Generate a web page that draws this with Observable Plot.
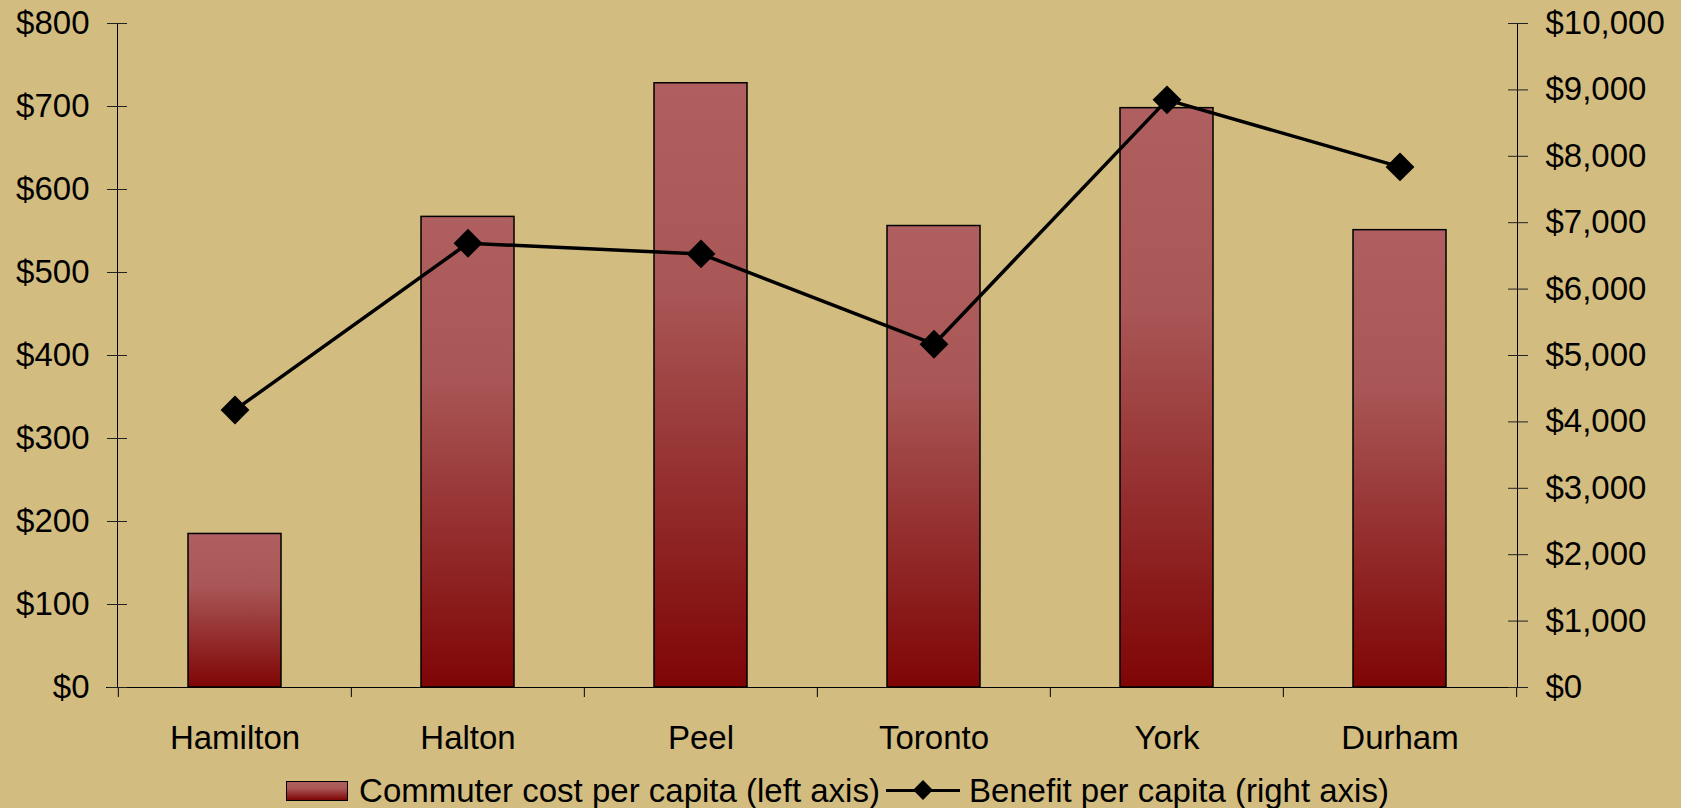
<!DOCTYPE html>
<html>
<head>
<meta charset="utf-8">
<script src="https://cdn.jsdelivr.net/npm/d3@7"></script>
<script src="https://cdn.jsdelivr.net/npm/@observablehq/plot@0.6"></script>
<style>
  html, body { margin: 0; padding: 0; background: #D3BC80; overflow: hidden; }
  #chart svg { display: block; }
  #legend {
    height: 38px; line-height: 38px; font-family: "Liberation Sans", Arial, sans-serif;
    font-size: 33px; color: #000; display: flex; justify-content: center; align-items: center;
    white-space: nowrap; margin-left: -6px;
  }
  .sw { display: inline-block; width: 60px; height: 18px; border: 1.5px solid #000;
    background: linear-gradient(to bottom, #AF5F5F 0%, #A95656 35%, #7F0505 100%); margin-right: 11px; }
  .ln { display: inline-block; position: relative; width: 74px; height: 38px; margin-left: 6px; margin-right: 9px; }
  .ln::before { content: ""; position: absolute; left: 0; right: 0; top: 17px; height: 3px; background: #000; }
  .ln::after { content: ""; position: absolute; left: 30px; top: 11px; width: 14px; height: 14px; background: #000; transform: rotate(45deg); }
</style>
</head>
<body>
<div id="chart"></div>
<div id="legend"><span class="sw"></span><span>Commuter cost per capita (left axis)</span><span class="ln"></span><span>Benefit per capita (right axis)</span></div>
<script>
const regions = ["Hamilton", "Halton", "Peel", "Toronto", "York", "Durham"];
const costPerCapita = [185, 567, 728, 556, 698, 551];
const benefitPerCapita = [4180, 6690, 6530, 5170, 8850, 7840];
const leftTicks = [0, 100, 200, 300, 400, 500, 600, 700, 800];
const rightTicks = [0, 1000, 2000, 3000, 4000, 5000, 6000, 7000, 8000, 9000, 10000];

const ratio = 10000 / 800;
const data = regions.map((r, i) => ({region: r, cost: costPerCapita[i], benefit: benefitPerCapita[i]}));

const W = 1681, H = 772, mL = 117, mR = 164, mT = 23, mB = 85;
const step = (W - mL - mR) / regions.length;
const font = 33;

const chart = Plot.plot({
  width: W, height: H,
  marginLeft: mL, marginRight: mR, marginTop: mT, marginBottom: mB,
  style: {background: "#D3BC80", fontFamily: "'Liberation Sans', Arial, sans-serif", fontSize: font + "px", color: "#000"},
  x: {type: "band", domain: regions, paddingInner: 0.6, paddingOuter: 0.3, axis: null},
  y: {domain: [0, 800], axis: null},
  marks: [
    Plot.barY(data, {x: "region", y: "cost", fill: "url(#barGrad)", stroke: "#000", strokeWidth: 1.5}),
    Plot.frame({anchor: "left", stroke: "#000", strokeWidth: 1}),
    Plot.frame({anchor: "right", stroke: "#000", strokeWidth: 1}),
    Plot.ruleY([0], {insetLeft: -11, stroke: "#000", strokeWidth: 1.2}),
    // category boundary ticks
    Plot.axisX({ticks: regions, tickSize: 10, dx: -step / 2, fill: "none", label: null, stroke: "#000"}),
    Plot.axisX({ticks: [regions[regions.length - 1]], tickSize: 10, dx: step / 2, fill: "none", label: null, stroke: "#000"}),
    Plot.axisX({tickSize: 0, tickPadding: 38, stroke: "none", label: null, fontSize: font}),
    // left axis
    Plot.axisY({ticks: leftTicks, tickSize: 20, dx: 10, fill: "none", label: null, stroke: "#222"}),
    Plot.axisY({ticks: leftTicks, tickSize: 0, tickPadding: 28, stroke: "none", label: null, fontSize: font, tickFormat: d => "$" + d}),
    // right axis (benefit, scaled)
    Plot.axisY({anchor: "right", ticks: rightTicks.map(v => v / ratio), tickSize: 20, dx: -10, fill: "none", label: null, stroke: "#222"}),
    Plot.axisY({anchor: "right", ticks: rightTicks.map(v => v / ratio), tickSize: 0, tickPadding: 28, stroke: "none", label: null, fontSize: font,
      tickFormat: d => "$" + d3.format(",")(Math.round(d * ratio))}),
    Plot.line(data, {x: "region", y: d => d.benefit / ratio, stroke: "#000", strokeWidth: 3.5}),
    Plot.dot(data, {x: "region", y: d => d.benefit / ratio, symbol: "diamond2", r: 13, fill: "#000", stroke: "none"})
  ]
});

const ns = "http://www.w3.org/2000/svg";
const defs = document.createElementNS(ns, "defs");
const grad = document.createElementNS(ns, "linearGradient");
grad.setAttribute("id", "barGrad");
grad.setAttribute("x1", "0"); grad.setAttribute("y1", "0");
grad.setAttribute("x2", "0"); grad.setAttribute("y2", "1");
[["0%", "#AF5F5F"], ["35%", "#A95656"], ["100%", "#7F0505"]].forEach(([o, c]) => {
  const s = document.createElementNS(ns, "stop");
  s.setAttribute("offset", o); s.setAttribute("stop-color", c);
  grad.appendChild(s);
});
defs.appendChild(grad);
chart.insertBefore(defs, chart.firstChild);
document.getElementById("chart").appendChild(chart);
</script>
</body>
</html>
